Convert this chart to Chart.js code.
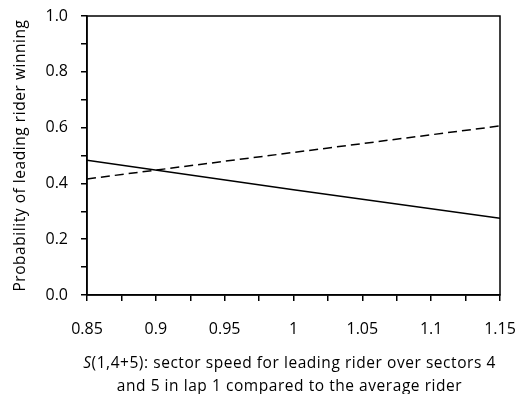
<!DOCTYPE html>
<html>
<head>
<meta charset="utf-8">
<script src="https://cdn.jsdelivr.net/npm/chart.js@4"></script>
<style>
  html, body { margin: 0; padding: 0; background: #fff; }
  #wrap { width: 517px; height: 394px; position: relative; }
</style>
</head>
<body>
<div id="wrap"><canvas id="c" width="517" height="394"></canvas></div>
<script>
// Sector speed S(1,4+5) relative to the average rider
const speedRatio = [0.85, 1.0, 1.15];
// Probability of the leading rider winning, two model curves
const probSolid  = [0.483, 0.377, 0.275];
const probDashed = [0.416, 0.511, 0.606];

const xTickLabels = ['0.85', '0.9', '0.95', '1', '1.05', '1.1', '1.15'];
const yTickLabels = ['0.0', '0.2', '0.4', '0.6', '0.8', '1.0'];

const yTitle = 'Probability of leading rider winning';
const xTitleItalic = 'S';
const xTitleLine1 = '(1,4+5): sector speed for leading rider over sectors 4';
const xTitleLine2 = 'and 5 in lap 1 compared to the average rider';

const FONT = '"Open Sans", Lato, sans-serif';
const TITLE_SIZE = 15.5;
const TITLE_SPACING = '0.55px';

function toPoints(xs, ys) {
  return xs.map((x, i) => ({ x: x, y: ys[i] }));
}

// Frame around the plot area plus the axis titles
const framePlugin = {
  id: 'frameAndTitles',
  afterDraw(chart) {
    const { ctx, chartArea: a } = chart;
    ctx.save();
    ctx.strokeStyle = '#000';
    ctx.lineWidth = 1.5;
    ctx.strokeRect(a.left, a.top, a.right - a.left, a.bottom - a.top);

    ctx.fillStyle = '#000';
    ctx.textBaseline = 'middle';
    ctx.letterSpacing = TITLE_SPACING;

    // y title
    ctx.save();
    ctx.translate(21, (a.top + a.bottom) / 2);
    ctx.rotate(-Math.PI / 2);
    ctx.textAlign = 'center';
    ctx.font = TITLE_SIZE + 'px ' + FONT;
    ctx.fillText(yTitle, 0, 0);
    ctx.restore();

    // x title, first line with italic symbol
    const cx = (a.left + a.right) / 2 - 4;
    ctx.font = 'italic ' + TITLE_SIZE + 'px ' + FONT;
    const wI = ctx.measureText(xTitleItalic).width;
    ctx.font = TITLE_SIZE + 'px ' + FONT;
    const wR = ctx.measureText(xTitleLine1).width;
    const x0 = cx - (wI + wR) / 2;
    ctx.textAlign = 'left';
    ctx.font = 'italic ' + TITLE_SIZE + 'px ' + FONT;
    ctx.fillText(xTitleItalic, x0, 364);
    ctx.font = TITLE_SIZE + 'px ' + FONT;
    ctx.fillText(xTitleLine1, x0 + wI, 364);
    ctx.textAlign = 'center';
    ctx.fillText(xTitleLine2, cx, 387);
    ctx.restore();
  }
};

new Chart(document.getElementById('c'), {
  type: 'scatter',
  data: {
    datasets: [
      {
        data: toPoints(speedRatio, probSolid),
        showLine: true,
        borderColor: '#000',
        borderWidth: 1.5,
        pointRadius: 0,
        tension: 0
      },
      {
        data: toPoints(speedRatio, probDashed),
        showLine: true,
        borderColor: '#000',
        borderWidth: 1.5,
        borderDash: [9, 5],
        pointRadius: 0,
        tension: 0
      }
    ]
  },
  options: {
    responsive: false,
    animation: false,
    events: [],
    layout: { padding: { top: 16, right: 17, left: 0, bottom: 0 } },
    plugins: { legend: { display: false }, tooltip: { enabled: false } },
    scales: {
      x: {
        type: 'linear',
        min: 0.85,
        max: 1.15,
        afterBuildTicks(scale) {
          const t = [];
          for (let i = 0; i <= 12; i++) t.push({ value: 0.85 + i * 0.025 });
          scale.ticks = t;
        },
        afterFit(scale) {
          scale.height = 99;
          scale.paddingLeft = 0;
          scale.paddingRight = 0;
        },
        border: { display: true, color: '#000', width: 1.5 },
        grid: { drawOnChartArea: false, drawTicks: true, tickLength: 6, color: '#000', lineWidth: 1.5 },
        ticks: {
          autoSkip: false,
          maxRotation: 0,
          padding: 19,
          color: '#000',
          font: { family: FONT, size: 16 },
          callback(v, i) { return i % 2 === 0 ? xTickLabels[i / 2] : ''; }
        }
      },
      y: {
        type: 'linear',
        min: 0,
        max: 1,
        afterBuildTicks(scale) {
          const t = [];
          for (let i = 0; i <= 10; i++) t.push({ value: i * 0.1 });
          scale.ticks = t;
        },
        afterFit(scale) {
          scale.width = 87;
          scale.paddingTop = 0;
          scale.paddingBottom = 0;
        },
        border: { display: true, color: '#000', width: 1.5 },
        grid: { drawOnChartArea: false, drawTicks: true, tickLength: 6, color: '#000', lineWidth: 1.5 },
        ticks: {
          autoSkip: false,
          padding: 13,
          color: '#000',
          font: { family: FONT, size: 16 },
          callback(v, i) { return i % 2 === 0 ? yTickLabels[i / 2] : ''; }
        }
      }
    }
  },
  plugins: [framePlugin]
});
</script>
</body>
</html>
